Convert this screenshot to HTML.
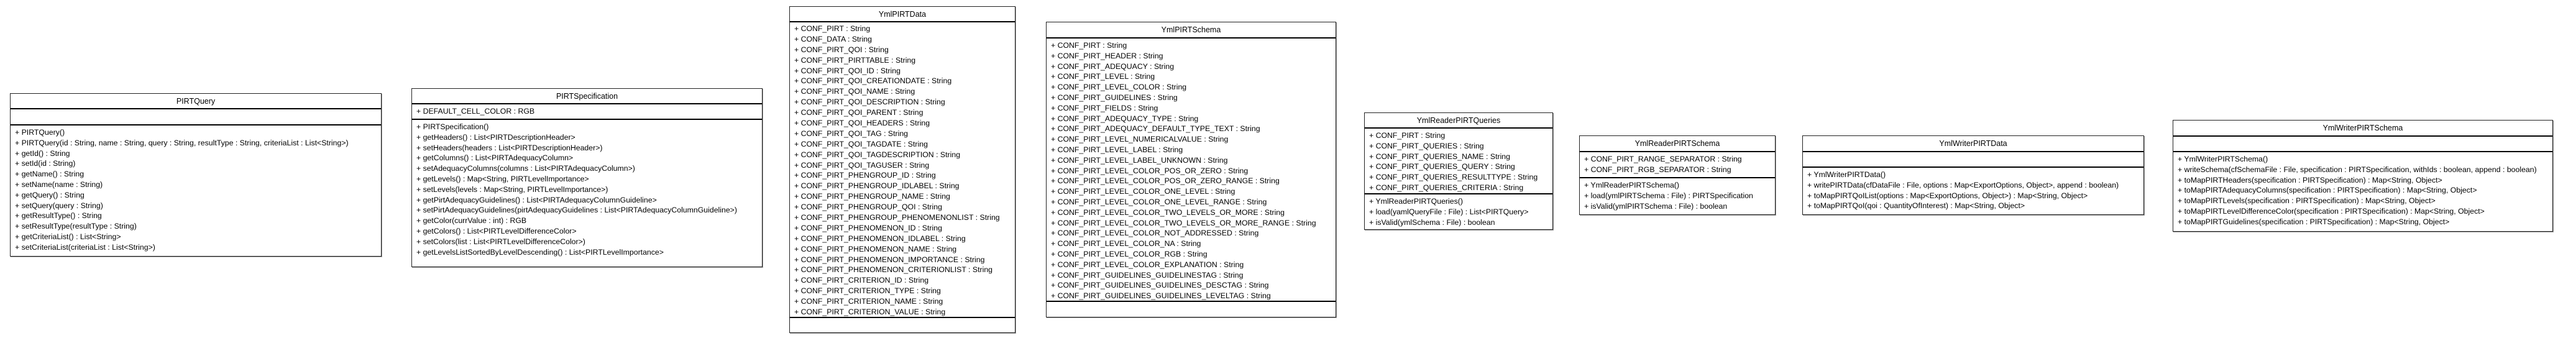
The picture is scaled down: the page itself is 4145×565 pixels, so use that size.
<!DOCTYPE html>
<html><head><meta charset="utf-8"><style>
body{margin:0;width:4145px;height:565px;background:#fff;position:relative;overflow:hidden;font-family:"Liberation Sans",Arial,sans-serif;font-size:12.3px;color:#000}
.b{position:absolute;border:1px solid #222;background:#fff;box-shadow:1px 1px 0 #999;box-sizing:border-box}
.t{text-align:center;border-bottom:2px solid #000;box-sizing:border-box;display:flex;align-items:center;justify-content:center;font-size:12.5px}
.c{border-bottom:2px solid #000;box-sizing:border-box;padding:3px 0 0 7px;white-space:nowrap;overflow:hidden}
.c:last-child{border-bottom:none}
.c div{height:16.8px;line-height:16.8px}
.c.d{overflow:visible;padding-top:2px}
.c.d div{height:16.9px;line-height:16.9px}
</style></head><body>

<div class="b" style="left:16px;top:150px;width:598px">
<div class="t" style="height:25px">PIRTQuery</div>
<div class="c" style="height:26px"></div>
<div class="c" style="height:210px">
<div>+ PIRTQuery()</div>
<div>+ PIRTQuery(id : String, name : String, query : String, resultType : String, criteriaList : List&lt;String&gt;)</div>
<div>+ getId() : String</div>
<div>+ setId(id : String)</div>
<div>+ getName() : String</div>
<div>+ setName(name : String)</div>
<div>+ getQuery() : String</div>
<div>+ setQuery(query : String)</div>
<div>+ getResultType() : String</div>
<div>+ setResultType(resultType : String)</div>
<div>+ getCriteriaList() : List&lt;String&gt;</div>
<div>+ setCriteriaList(criteriaList : List&lt;String&gt;)</div>
</div></div>

<div class="b" style="left:662px;top:142px;width:565px">
<div class="t" style="height:25px">PIRTSpecification</div>
<div class="c" style="height:25px"><div>+ DEFAULT_CELL_COLOR : RGB</div></div>
<div class="c" style="height:236px">
<div>+ PIRTSpecification()</div>
<div>+ getHeaders() : List&lt;PIRTDescriptionHeader&gt;</div>
<div>+ setHeaders(headers : List&lt;PIRTDescriptionHeader&gt;)</div>
<div>+ getColumns() : List&lt;PIRTAdequacyColumn&gt;</div>
<div>+ setAdequacyColumns(columns : List&lt;PIRTAdequacyColumn&gt;)</div>
<div>+ getLevels() : Map&lt;String, PIRTLevelImportance&gt;</div>
<div>+ setLevels(levels : Map&lt;String, PIRTLevelImportance&gt;)</div>
<div>+ getPirtAdequacyGuidelines() : List&lt;PIRTAdequacyColumnGuideline&gt;</div>
<div>+ setPirtAdequacyGuidelines(pirtAdequacyGuidelines : List&lt;PIRTAdequacyColumnGuideline&gt;)</div>
<div>+ getColor(currValue : int) : RGB</div>
<div>+ getColors() : List&lt;PIRTLevelDifferenceColor&gt;</div>
<div>+ setColors(list : List&lt;PIRTLevelDifferenceColor&gt;)</div>
<div>+ getLevelsListSortedByLevelDescending() : List&lt;PIRTLevelImportance&gt;</div>
</div></div>

<div class="b" style="left:1270px;top:10px;width:364px">
<div class="t" style="height:25px">YmlPIRTData</div>
<div class="c d" style="height:476px">
<div>+ CONF_PIRT : String</div>
<div>+ CONF_DATA : String</div>
<div>+ CONF_PIRT_QOI : String</div>
<div>+ CONF_PIRT_PIRTTABLE : String</div>
<div>+ CONF_PIRT_QOI_ID : String</div>
<div>+ CONF_PIRT_QOI_CREATIONDATE : String</div>
<div>+ CONF_PIRT_QOI_NAME : String</div>
<div>+ CONF_PIRT_QOI_DESCRIPTION : String</div>
<div>+ CONF_PIRT_QOI_PARENT : String</div>
<div>+ CONF_PIRT_QOI_HEADERS : String</div>
<div>+ CONF_PIRT_QOI_TAG : String</div>
<div>+ CONF_PIRT_QOI_TAGDATE : String</div>
<div>+ CONF_PIRT_QOI_TAGDESCRIPTION : String</div>
<div>+ CONF_PIRT_QOI_TAGUSER : String</div>
<div>+ CONF_PIRT_PHENGROUP_ID : String</div>
<div>+ CONF_PIRT_PHENGROUP_IDLABEL : String</div>
<div>+ CONF_PIRT_PHENGROUP_NAME : String</div>
<div>+ CONF_PIRT_PHENGROUP_QOI : String</div>
<div>+ CONF_PIRT_PHENGROUP_PHENOMENONLIST : String</div>
<div>+ CONF_PIRT_PHENOMENON_ID : String</div>
<div>+ CONF_PIRT_PHENOMENON_IDLABEL : String</div>
<div>+ CONF_PIRT_PHENOMENON_NAME : String</div>
<div>+ CONF_PIRT_PHENOMENON_IMPORTANCE : String</div>
<div>+ CONF_PIRT_PHENOMENON_CRITERIONLIST : String</div>
<div>+ CONF_PIRT_CRITERION_ID : String</div>
<div>+ CONF_PIRT_CRITERION_TYPE : String</div>
<div>+ CONF_PIRT_CRITERION_NAME : String</div>
<div>+ CONF_PIRT_CRITERION_VALUE : String</div>
</div>
<div class="c" style="height:23px"></div>
</div>

<div class="b" style="left:1683px;top:35px;width:467px">
<div class="t" style="height:26px">YmlPIRTSchema</div>
<div class="c" style="height:424px">
<div>+ CONF_PIRT : String</div>
<div>+ CONF_PIRT_HEADER : String</div>
<div>+ CONF_PIRT_ADEQUACY : String</div>
<div>+ CONF_PIRT_LEVEL : String</div>
<div>+ CONF_PIRT_LEVEL_COLOR : String</div>
<div>+ CONF_PIRT_GUIDELINES : String</div>
<div>+ CONF_PIRT_FIELDS : String</div>
<div>+ CONF_PIRT_ADEQUACY_TYPE : String</div>
<div>+ CONF_PIRT_ADEQUACY_DEFAULT_TYPE_TEXT : String</div>
<div>+ CONF_PIRT_LEVEL_NUMERICALVALUE : String</div>
<div>+ CONF_PIRT_LEVEL_LABEL : String</div>
<div>+ CONF_PIRT_LEVEL_LABEL_UNKNOWN : String</div>
<div>+ CONF_PIRT_LEVEL_COLOR_POS_OR_ZERO : String</div>
<div>+ CONF_PIRT_LEVEL_COLOR_POS_OR_ZERO_RANGE : String</div>
<div>+ CONF_PIRT_LEVEL_COLOR_ONE_LEVEL : String</div>
<div>+ CONF_PIRT_LEVEL_COLOR_ONE_LEVEL_RANGE : String</div>
<div>+ CONF_PIRT_LEVEL_COLOR_TWO_LEVELS_OR_MORE : String</div>
<div>+ CONF_PIRT_LEVEL_COLOR_TWO_LEVELS_OR_MORE_RANGE : String</div>
<div>+ CONF_PIRT_LEVEL_COLOR_NOT_ADDRESSED : String</div>
<div>+ CONF_PIRT_LEVEL_COLOR_NA : String</div>
<div>+ CONF_PIRT_LEVEL_COLOR_RGB : String</div>
<div>+ CONF_PIRT_LEVEL_COLOR_EXPLANATION : String</div>
<div>+ CONF_PIRT_GUIDELINES_GUIDELINESTAG : String</div>
<div>+ CONF_PIRT_GUIDELINES_GUIDELINES_DESCTAG : String</div>
<div>+ CONF_PIRT_GUIDELINES_GUIDELINES_LEVELTAG : String</div>
</div>
<div class="c" style="height:24px"></div>
</div>

<div class="b" style="left:2195px;top:181px;width:304px">
<div class="t" style="height:25px">YmlReaderPIRTQueries</div>
<div class="c" style="height:106px">
<div>+ CONF_PIRT : String</div>
<div>+ CONF_PIRT_QUERIES : String</div>
<div>+ CONF_PIRT_QUERIES_NAME : String</div>
<div>+ CONF_PIRT_QUERIES_QUERY : String</div>
<div>+ CONF_PIRT_QUERIES_RESULTTYPE : String</div>
<div>+ CONF_PIRT_QUERIES_CRITERIA : String</div>
</div>
<div class="c" style="height:56px">
<div>+ YmlReaderPIRTQueries()</div>
<div>+ load(yamlQueryFile : File) : List&lt;PIRTQuery&gt;</div>
<div>+ isValid(ymlSchema : File) : boolean</div>
</div></div>

<div class="b" style="left:2541px;top:218px;width:316px">
<div class="t" style="height:26px">YmlReaderPIRTSchema</div>
<div class="c" style="height:42px">
<div>+ CONF_PIRT_RANGE_SEPARATOR : String</div>
<div>+ CONF_PIRT_RGB_SEPARATOR : String</div>
</div>
<div class="c" style="height:58px">
<div>+ YmlReaderPIRTSchema()</div>
<div>+ load(ymlPIRTSchema : File) : PIRTSpecification</div>
<div>+ isValid(ymlPIRTSchema : File) : boolean</div>
</div></div>

<div class="b" style="left:2900px;top:218px;width:550px">
<div class="t" style="height:26px">YmlWriterPIRTData</div>
<div class="c" style="height:25px"></div>
<div class="c" style="height:75px">
<div>+ YmlWriterPIRTData()</div>
<div>+ writePIRTData(cfDataFile : File, options : Map&lt;ExportOptions, Object&gt;, append : boolean)</div>
<div>+ toMapPIRTQoIList(options : Map&lt;ExportOptions, Object&gt;) : Map&lt;String, Object&gt;</div>
<div>+ toMapPIRTQoI(qoi : QuantityOfInterest) : Map&lt;String, Object&gt;</div>
</div></div>

<div class="b" style="left:3496px;top:193px;width:612px">
<div class="t" style="height:26px">YmlWriterPIRTSchema</div>
<div class="c" style="height:25px"></div>
<div class="c" style="height:127px">
<div>+ YmlWriterPIRTSchema()</div>
<div>+ writeSchema(cfSchemaFile : File, specification : PIRTSpecification, withIds : boolean, append : boolean)</div>
<div>+ toMapPIRTHeaders(specification : PIRTSpecification) : Map&lt;String, Object&gt;</div>
<div>+ toMapPIRTAdequacyColumns(specification : PIRTSpecification) : Map&lt;String, Object&gt;</div>
<div>+ toMapPIRTLevels(specification : PIRTSpecification) : Map&lt;String, Object&gt;</div>
<div>+ toMapPIRTLevelDifferenceColor(specification : PIRTSpecification) : Map&lt;String, Object&gt;</div>
<div>+ toMapPIRTGuidelines(specification : PIRTSpecification) : Map&lt;String, Object&gt;</div>
</div></div>

</body></html>
